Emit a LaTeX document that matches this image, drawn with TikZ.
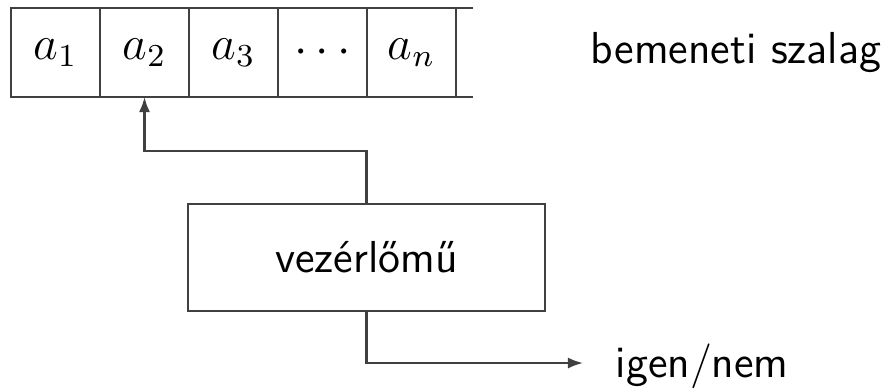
\documentclass[tikz,border=0pt]{standalone}
\usepackage{fontspec}
\usepackage{tikz}
\usetikzlibrary{positioning,arrows.meta}
\definecolor{linegray}{HTML}{404040}
\tikzset{
  tapecell/.style={draw=linegray, line width=0.55pt, minimum width=22.25pt, minimum height=22.25pt, inner sep=0pt, outer sep=0pt},
  ctrlbox/.style={draw=linegray, line width=0.55pt, minimum width=89.25pt, minimum height=26.75pt, inner sep=0pt},
  arrow/.style={-{Latex[length=3.8pt,width=2.8pt]}, line width=0.55pt, draw=linegray},
  lbl/.style={inner sep=0pt, font=\sffamily\fontsize{11.2}{14}\selectfont}
}
\begin{document}
\begin{tikzpicture}[x=0.25pt, y=-0.25pt, font=\fontsize{11.8}{14}\selectfont]
  \useasboundingbox (0,0) rectangle (888,390);

  \node[tapecell] (c1) at (55.5,52.5) {$a_1$};
  \node[tapecell, right=0pt of c1] (c2) {$a_2$};
  \node[tapecell, right=0pt of c2] (c3) {$a_3$};
  \node[tapecell, right=0pt of c3] (c4) {$\cdots$};
  \node[tapecell, right=0pt of c4] (c5) {$a_n$};
  \coordinate (tapeend) at (473,52.5);
  \draw[draw=linegray, line width=0.55pt] (c5.north east) -- (c5.north east -| tapeend)
    (c5.south east) -- (c5.south east -| tapeend);

  \node[lbl, anchor=base east] (tapename) at (882,63) {bemeneti szalag};

  \node[ctrlbox, lbl] (ctrl) at (366.5,257.5) {vezérlőmű};

  \coordinate (turn) at (366.5,151);
  \coordinate (out) at (583,363);
  \draw[arrow] (ctrl.north) -- (turn) -| (c2.south);
  \draw[arrow] (ctrl.south) |- (out);

  \node[lbl, anchor=base west] (answer) at (615,377) {igen/nem};
\end{tikzpicture}
\end{document}
